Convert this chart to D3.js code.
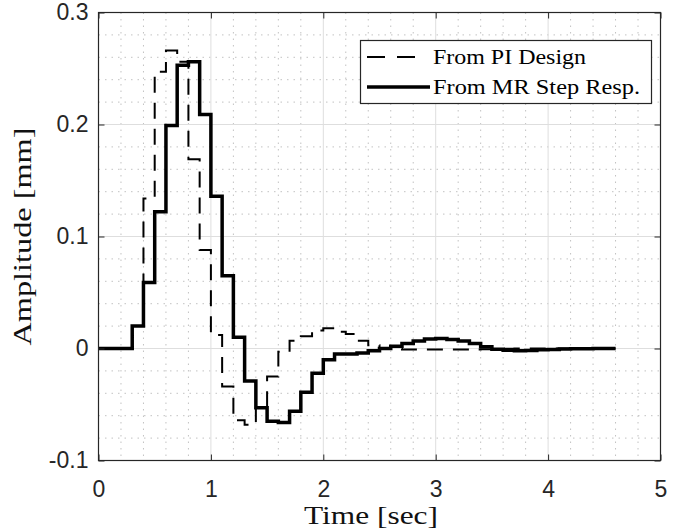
<!DOCTYPE html>
<html>
<head>
<meta charset="utf-8">
<script src="https://cdn.jsdelivr.net/npm/d3@7"></script>
<style>
  body { margin: 0; background: #fff; }
  svg { display: block; }
</style>
</head>
<body>
<svg id="chart" width="678" height="531"></svg>
<script>
// Sample instants [sec] (zero-order hold, Ts = 0.1 s); last entry closes the final hold.
const time = [0, 0.1, 0.2, 0.3, 0.4, 0.5, 0.6, 0.7, 0.8, 0.9,
              1.0, 1.1, 1.2, 1.3, 1.4, 1.5, 1.6, 1.7, 1.8, 1.9,
              2.0, 2.1, 2.2, 2.3, 2.4, 2.5, 2.6, 2.7, 2.8, 2.9,
              3.0, 3.1, 3.2, 3.3, 3.4, 3.5, 3.6, 3.7, 3.8, 3.9,
              4.0, 4.1, 4.2, 4.3, 4.4, 4.5, 4.6];

// Response of the PI-designed loop [mm]
const piDesign = [0, 0, 0, 0.020, 0.134, 0.247, 0.266, 0.256, 0.169, 0.088,
                  0.012, -0.034, -0.064, -0.068, -0.053, -0.025, -0.003, 0.007, 0.011, 0.016,
                  0.018, 0.015, 0.013, 0.007, 0.003, 0.0005, -0.0005, -0.001, -0.001, -0.001,
                  -0.001, -0.001, -0.001, -0.0008, -0.0006, -0.0004, -0.0002, 0, 0, 0,
                  0, 0, 0, 0, 0, 0, 0];

// Response identified from the MR step response [mm]
const mrStepResp = [0, 0, 0, 0.020, 0.059, 0.122, 0.199, 0.253, 0.256, 0.209,
                    0.136, 0.065, 0.010, -0.029, -0.053, -0.065, -0.066, -0.056, -0.039, -0.022,
                    -0.010, -0.005, -0.005, -0.004, -0.002, 0.000, 0.002, 0.0045, 0.0066, 0.0084,
                    0.009, 0.008, 0.0066, 0.0045, 0.0015, -0.0006, -0.0015, -0.002, -0.0018, -0.0012,
                    -0.0008, -0.0005, -0.0003, -0.0002, -0.0001, 0, 0];

const seriesNames = ["From PI Design", "From MR Step Resp."];
const xTicks = [0, 1, 2, 3, 4, 5];
const xTickLabels = ["0", "1", "2", "3", "4", "5"];
const yTicks = [-0.1, 0, 0.1, 0.2, 0.3];
const yTickLabels = ["-0.1", "0", "0.1", "0.2", "0.3"];
const xLabel = "Time [sec]";
const yLabel = "Amplitude [mm]";

const svg = d3.select("#chart");
const W = 678, H = 531;
const plot = { left: 98.5, right: 660.5, top: 12.5, bottom: 460.5 };
const axisColor = "#262626";
const tickFont = "'Liberation Sans', Arial, Helvetica, sans-serif";
const serifFont = "'Liberation Serif', 'Times New Roman', serif";

svg.append("rect").attr("width", W).attr("height", H).attr("fill", "#fff");

const x = d3.scaleLinear().domain([0, 5]).range([plot.left, plot.right]);
const y = d3.scaleLinear().domain([-0.1, 0.3]).range([plot.bottom, plot.top]);

// Minor grid (dotted)
const xMinor = d3.range(0, 5.0001, 0.2).filter(v => Math.abs(v - Math.round(v)) > 1e-6);
const yMinor = d3.range(-0.1, 0.3001, 0.02).filter(v => Math.abs(v * 10 - Math.round(v * 10)) > 1e-6);
const grid = svg.append("g");
grid.selectAll(".xminor").data(xMinor).join("line")
  .attr("x1", d => x(d)).attr("x2", d => x(d))
  .attr("y1", plot.top).attr("y2", plot.bottom)
  .attr("stroke", "#c2c2c2").attr("stroke-width", 1).attr("stroke-dasharray", "1.5,5");
grid.selectAll(".yminor").data(yMinor).join("line")
  .attr("y1", d => y(d)).attr("y2", d => y(d))
  .attr("x1", plot.left).attr("x2", plot.right)
  .attr("stroke", "#c2c2c2").attr("stroke-width", 1).attr("stroke-dasharray", "1.5,5");

// Major grid (solid, light)
grid.selectAll(".xmajor").data(xTicks).join("line")
  .attr("x1", d => x(d)).attr("x2", d => x(d))
  .attr("y1", plot.top).attr("y2", plot.bottom)
  .attr("stroke", "#dedede").attr("stroke-width", 1);
grid.selectAll(".ymajor").data(yTicks).join("line")
  .attr("y1", d => y(d)).attr("y2", d => y(d))
  .attr("x1", plot.left).attr("x2", plot.right)
  .attr("stroke", "#dedede").attr("stroke-width", 1);

// Step traces
const stepLine = d3.line()
  .x(d => x(d[0]))
  .y(d => y(d[1]))
  .curve(d3.curveStepAfter);

const piPts = time.map((t, i) => [t, piDesign[i]]);
const mrPts = time.map((t, i) => [t, mrStepResp[i]]);

svg.append("path").datum(piPts)
  .attr("d", stepLine)
  .attr("fill", "none").attr("stroke", "#000")
  .attr("stroke-width", 2).attr("stroke-dasharray", "16,10");

svg.append("path").datum(mrPts)
  .attr("d", stepLine)
  .attr("fill", "none").attr("stroke", "#000")
  .attr("stroke-width", 3.5).attr("stroke-linejoin", "miter");

// Axes with inward ticks on all four sides
const fmtX = d => xTickLabels[xTicks.indexOf(d)];
const fmtY = d => yTickLabels[yTicks.indexOf(d)];

const gx = svg.append("g").attr("transform", `translate(0,${plot.bottom})`)
  .call(d3.axisBottom(x).tickValues(xTicks).tickFormat(fmtX).tickSizeInner(-6).tickSizeOuter(0).tickPadding(20));
const gy = svg.append("g").attr("transform", `translate(${plot.left},0)`)
  .call(d3.axisLeft(y).tickValues(yTicks).tickFormat(fmtY).tickSizeInner(-6).tickSizeOuter(0).tickPadding(10));
const gxt = svg.append("g").attr("transform", `translate(0,${plot.top})`)
  .call(d3.axisTop(x).tickValues(xTicks).tickFormat("").tickSizeInner(-6).tickSizeOuter(0));
const gyr = svg.append("g").attr("transform", `translate(${plot.right},0)`)
  .call(d3.axisRight(y).tickValues(yTicks).tickFormat("").tickSizeInner(-6).tickSizeOuter(0));

[gx, gy, gxt, gyr].forEach(g => {
  g.select(".domain").remove();
  g.selectAll(".tick line").attr("stroke", axisColor).attr("stroke-width", 1);
  g.selectAll(".tick text").attr("fill", axisColor)
    .style("font-family", tickFont).style("font-size", "23px");
});

// Box
svg.append("rect")
  .attr("x", plot.left).attr("y", plot.top)
  .attr("width", plot.right - plot.left).attr("height", plot.bottom - plot.top)
  .attr("fill", "none").attr("stroke", axisColor).attr("stroke-width", 1.2);

// Axis labels
svg.append("text")
  .attr("x", 371).attr("y", 524)
  .attr("text-anchor", "middle")
  .attr("textLength", 134).attr("lengthAdjust", "spacingAndGlyphs")
  .style("font-family", serifFont).style("font-size", "26px").attr("fill", "#111")
  .text(xLabel);

svg.append("text")
  .attr("transform", `translate(31,${(plot.top + plot.bottom) / 2}) rotate(-90)`)
  .attr("text-anchor", "middle")
  .attr("textLength", 218).attr("lengthAdjust", "spacingAndGlyphs")
  .style("font-family", serifFont).style("font-size", "26px").attr("fill", "#111")
  .text(yLabel);

// Legend
const lg = svg.append("g");
lg.append("rect")
  .attr("x", 360.5).attr("y", 40.5).attr("width", 291).attr("height", 63)
  .attr("fill", "#fff").attr("stroke", axisColor).attr("stroke-width", 1.2);
const legendRows = [
  { name: seriesNames[0], width: 2, dash: "18,12", yy: 57, len: 153, x2: 418 },
  { name: seriesNames[1], width: 3.5, dash: null, yy: 87, len: 207, x2: 430 }
];
legendRows.forEach(r => {
  lg.append("line")
    .attr("x1", 367).attr("x2", r.x2).attr("y1", r.yy).attr("y2", r.yy)
    .attr("stroke", "#000").attr("stroke-width", r.width)
    .attr("stroke-dasharray", r.dash);
  lg.append("text")
    .attr("x", 433).attr("y", r.yy + 7)
    .attr("textLength", r.len).attr("lengthAdjust", "spacingAndGlyphs")
    .style("font-family", serifFont).style("font-size", "21px").attr("fill", "#000")
    .text(r.name);
});
</script>
</body>
</html>
